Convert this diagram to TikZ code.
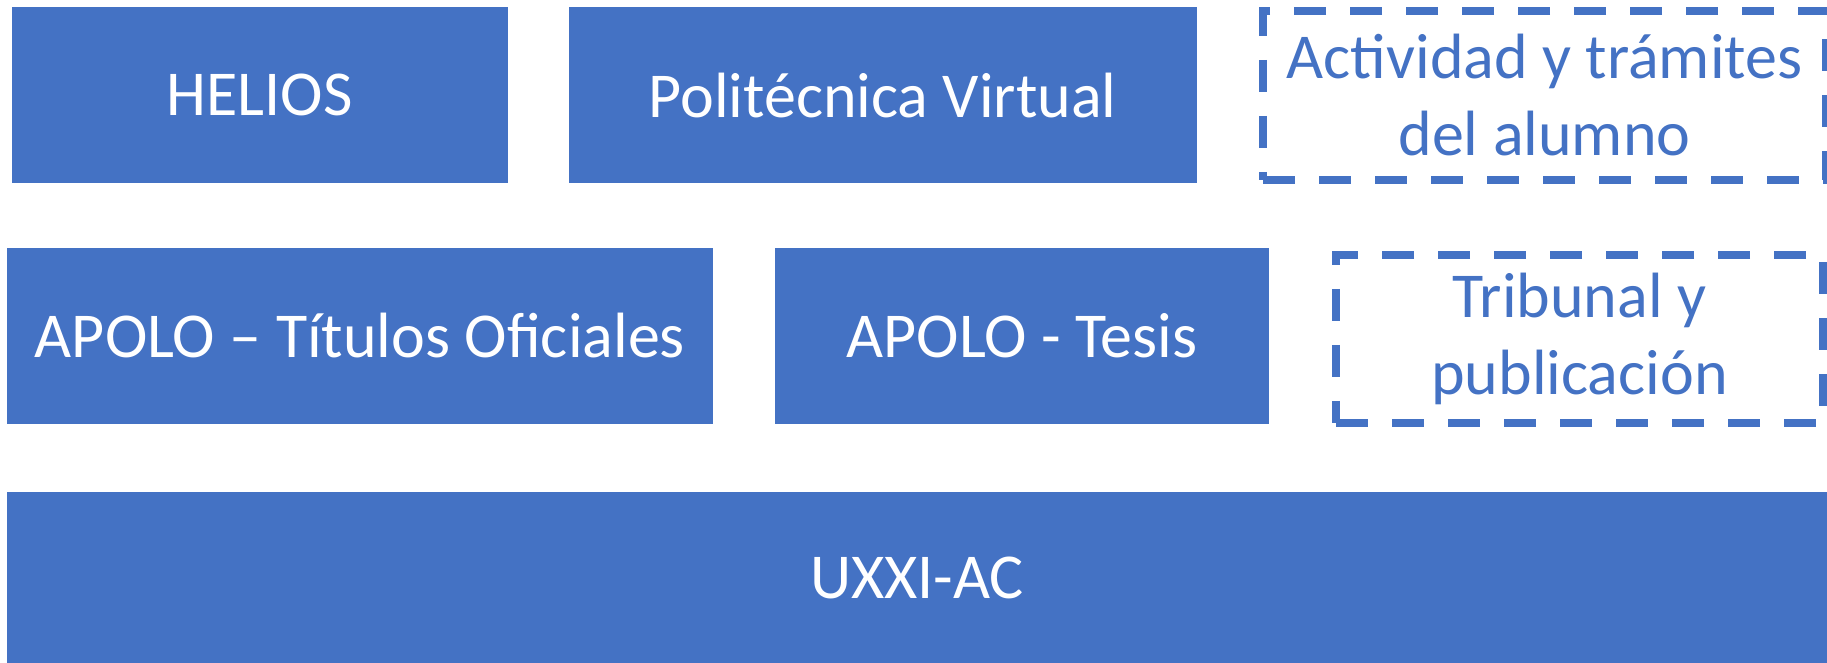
\documentclass[tikz,border=0pt]{standalone}
\usepackage{fontspec}
\setmainfont{Carlito}
\definecolor{ublue}{HTML}{4472C4}
\newcommand{\boxfont}{\fontsize{32}{38.5}\selectfont}
\tikzset{
  solidbox/.style={fill=ublue, draw=none, text=white, inner sep=0pt, font=\boxfont, align=center},
  dashbox/.style={draw=ublue, line width=4pt, dash pattern=on 16pt off 12pt, text=ublue, inner sep=0pt, font=\boxfont, align=center}
}
\begin{document}
\begin{tikzpicture}[x=0.5pt, y=-0.5pt]
  \useasboundingbox (0,0) rectangle (1827,663);
  \node[solidbox, minimum width=248pt, minimum height=88pt] (helios) at (259.5,95.2) {HELIOS};
  \node[solidbox, minimum width=314pt, minimum height=88pt] (pv) at (882.6,95.2) {Politécnica Virtual};
  \node[dashbox, minimum width=281.5pt, minimum height=84.5pt] (act) at (1544.5,95.5) {Actividad y trámites\\del alumno};
  \node[solidbox, minimum width=353pt, minimum height=88pt] (tit) at (360,336) {APOLO – Títulos Oficiales};
  \node[solidbox, minimum width=247pt, minimum height=88pt] (tesis) at (1022,336) {APOLO - Tesis};
  \node[dashbox, minimum width=243.5pt, minimum height=84pt] (trib) at (1579.5,339) {Tribunal y\\publicación};
  \node[solidbox, minimum width=910pt, minimum height=85.5pt] (uxxi) at (917,577.5) {UXXI-AC};
\end{tikzpicture}
\end{document}
